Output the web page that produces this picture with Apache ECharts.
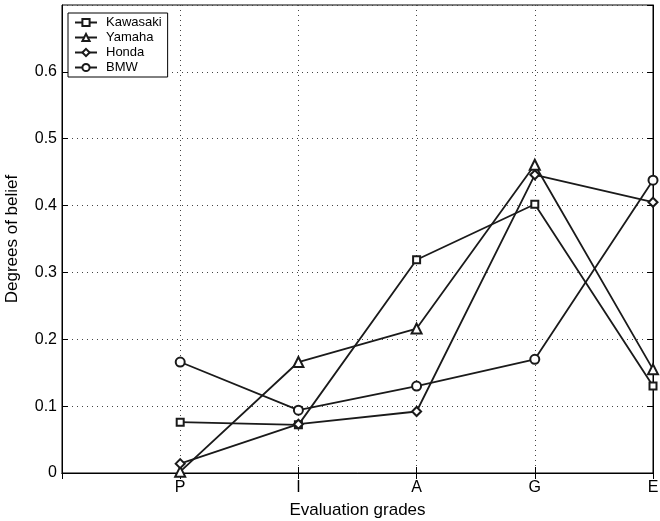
<!DOCTYPE html>
<html>
<head>
<meta charset="utf-8">
<script src="https://cdn.jsdelivr.net/npm/echarts@6/dist/echarts.min.js"></script>
<style>html,body{margin:0;padding:0;background:#fff}#c{width:660px;height:521px}</style>
</head>
<body>
<div id="c"></div>
<script>
const categories = ['', 'P', 'I', 'A', 'G', 'E'];
const kawasaki = [null, 0.076, 0.072, 0.319, 0.402, 0.130];
const yamaha   = [null, 0.002, 0.166, 0.216, 0.461, 0.155];
const honda    = [null, 0.014, 0.073, 0.092, 0.446, 0.405];
const bmw      = [null, 0.166, 0.094, 0.130, 0.170, 0.438];
const seriesNames = ['Kawasaki', 'Yamaha', 'Honda', 'BMW'];
const yTicks = { min: 0, max: 0.7, interval: 0.1 };

const font = 'Liberation Sans, Arial, Helvetica, sans-serif';
const chart = echarts.init(document.getElementById('c'));

function mkSeries(name, data, symbol, size) {
  return {
    name, type: 'line', data, symbol, symbolSize: size,
    showAllSymbol: true, connectNulls: false,
    lineStyle: { color: '#1a1a1a', width: 1.8 },
    itemStyle: { color: '#1a1a1a', borderColor: '#1a1a1a', borderWidth: 1.5 },
    emphasis: { disabled: true },
    z: 3
  };
}

chart.setOption({
  animation: false,
  backgroundColor: '#fff',
  textStyle: { fontFamily: font },
  grid: { left: 62, right: 7, top: 5, bottom: 48, show: true, borderColor: '#000', borderWidth: 1, containLabel: false, outerBoundsMode: 'none' },
  legend: {
    orient: 'vertical', left: 68, top: 13,
    data: seriesNames,
    borderColor: '#000', borderWidth: 1, backgroundColor: '#fff',
    padding: [3, 6, 3, 6], itemGap: 2, itemWidth: 22, itemHeight: 9,
    textStyle: { fontSize: 13, color: '#000', fontFamily: font, padding: [0, 0, 0, 4] },
    borderRadius: 0
  },
  xAxis: [{
    type: 'category', data: categories, boundaryGap: false,
    name: 'Evaluation grades', nameLocation: 'middle', nameGap: 29,
    nameTextStyle: { fontSize: 17, color: '#000', fontFamily: font },
    axisLine: { lineStyle: { color: '#000', width: 1 } },
    axisTick: { inside: true, length: 6, lineStyle: { color: '#000' } },
    axisLabel: { color: '#000', fontSize: 16, margin: 7, fontFamily: font },
    splitLine: { show: true, lineStyle: { color: '#444', type: [1, 4], width: 1 } }
  }, {
    type: 'category', data: categories, boundaryGap: false, position: 'top',
    axisLine: { lineStyle: { color: '#000', width: 1 } },
    axisTick: { inside: true, length: 6, lineStyle: { color: '#000' } },
    axisLabel: { show: false }, splitLine: { show: false }
  }],
  yAxis: [{
    type: 'value', min: yTicks.min, max: yTicks.max, interval: yTicks.interval,
    name: 'Degrees of belief', nameLocation: 'middle', nameGap: 41,
    nameTextStyle: { fontSize: 17, color: '#000', fontFamily: font },
    axisLine: { show: true, lineStyle: { color: '#000', width: 1 } },
    axisTick: { show: true, inside: true, length: 6, lineStyle: { color: '#000' } },
    axisLabel: { color: '#000', fontSize: 16, margin: 5, showMaxLabel: false, fontFamily: font },
    splitLine: { show: true, lineStyle: { color: '#444', type: [1, 4], width: 1 } }
  }, {
    type: 'value', min: yTicks.min, max: yTicks.max, interval: yTicks.interval, position: 'right',
    axisLine: { show: true, lineStyle: { color: '#000', width: 1 } },
    axisTick: { show: true, inside: true, length: 6, lineStyle: { color: '#000' } },
    axisLabel: { show: false }, splitLine: { show: false }
  }],
  series: [
    mkSeries(seriesNames[0], kawasaki, 'emptyRect', 7),
    mkSeries(seriesNames[1], yamaha, 'emptyTriangle', 10),
    mkSeries(seriesNames[2], honda, 'emptyDiamond', 9),
    mkSeries(seriesNames[3], bmw, 'emptyCircle', 9)
  ]
});
</script>
</body>
</html>
